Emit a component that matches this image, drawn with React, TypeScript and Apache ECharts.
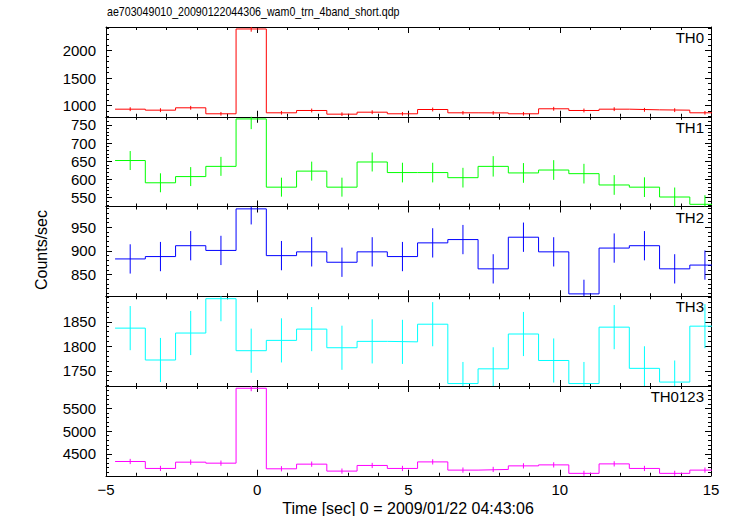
import React, { useEffect, useRef } from "react";
import * as echarts from "echarts";

const titleText = "ae703049010_20090122044306_wam0_trn_4band_short.qdp";
const xAxisTitle = "Time [sec] 0 = 2009/01/22 04:43:06";
const yAxisTitle = "Counts/sec";

const binCenters = [-4.2, -3.2, -2.2, -1.2, -0.2, 0.8, 1.8, 2.8, 3.8, 4.8, 5.8, 6.8, 7.8, 8.8, 9.8, 10.8, 11.8, 12.8, 13.8, 14.8];
const binHalfWidth = 0.5;

const panelNames = ["TH0", "TH1", "TH2", "TH3", "TH0123"];
const panelColors = ["#ff0000", "#00ff00", "#0000ff", "#00ffff", "#ff00ff"];

const th0 = [933, 915, 958, 849, 2394, 867, 909, 842, 878, 849, 927, 867, 865, 849, 940, 909, 933, 921, 915, 867];
const th0Err = [35, 35, 35, 33, 50, 33, 35, 33, 35, 33, 35, 33, 33, 33, 35, 35, 35, 35, 35, 33];
const th1 = [652, 591, 608, 636, 766, 579, 623, 579, 648, 619, 619, 605, 636, 618, 626, 616, 585, 579, 552, 532];
const th1Err = [26, 26, 26, 26, 28, 26, 26, 26, 26, 27, 27, 27, 28, 27, 27, 27, 27, 27, 26, 25];
const th2 = [883, 888, 911, 901, 989, 890, 898, 876, 898, 888, 917, 924, 862, 929, 898, 809, 906, 911, 862, 870];
const th2Err = [31, 31, 31, 31, 33, 31, 31, 31, 31, 31, 31, 31, 31, 31, 31, 30, 31, 31, 31, 31];
const th3 = [1837, 1772, 1827, 1897, 1791, 1812, 1835, 1797, 1810, 1809, 1845, 1724, 1754, 1825, 1771, 1724, 1839, 1755, 1727, 1841];
const th3Err = [45, 45, 45, 46, 45, 45, 45, 45, 45, 45, 45, 44, 44, 45, 45, 44, 45, 45, 44, 45];
const th0123 = [4329, 4175, 4314, 4292, 5952, 4167, 4270, 4116, 4241, 4175, 4320, 4138, 4153, 4232, 4254, 4066, 4276, 4175, 4066, 4138];
const th0123Err = [58, 58, 58, 58, 66, 58, 58, 58, 58, 58, 58, 58, 58, 58, 58, 58, 58, 58, 58, 58];

const panelValues = [th0, th1, th2, th3, th0123];
const panelErrors = [th0Err, th1Err, th2Err, th3Err, th0123Err];

const yRanges = [
  [795, 2430],
  [526, 772],
  [804, 994],
  [1719, 1902],
  [4013, 6002],
];
const yMajorTicks = [
  [1000, 1500, 2000],
  [550, 600, 650, 700, 750],
  [850, 900, 950],
  [1750, 1800, 1850],
  [4500, 5000, 5500],
];
const yMinorStep = [100, 10, 10, 10, 100];

const xMin = -5;
const xMax = 15;
const xMajorStep = 5;

const FONT = "'Liberation Sans', Helvetica, Arial, sans-serif";

export default function App() {
  const ref = useRef<HTMLDivElement>(null);

  useEffect(() => {
    if (!ref.current) return;
    const chart = echarts.init(ref.current, null, { renderer: "svg" });

    const W = 733;
    const gridLeft = 106;
    const gridRight = 22;
    const firstTop = 27;
    const panelH = 89.75;

    const grids: any[] = [];
    const xAxes: any[] = [];
    const yAxes: any[] = [];
    const series: any[] = [];
    const graphics: any[] = [];

    const majorLen = 6;
    const minorLen = 3;
    const lineStyle = { color: "#000", width: 1 };

    for (let i = 0; i < 5; i++) {
      const top = firstTop + i * panelH;
      grids.push({ left: gridLeft, right: gridRight, top, height: panelH });
      const isLast = i === 4;
      const baseX = {
        gridIndex: i,
        type: "value",
        min: xMin,
        max: xMax,
        interval: xMajorStep,
        splitLine: { show: false },
        axisLine: { show: true, onZero: false, lineStyle },
        axisTick: { show: true, inside: true, length: majorLen, lineStyle },
        minorTick: { show: true, splitNumber: 5, length: minorLen, lineStyle },
        minorSplitLine: { show: false },
      };
      xAxes.push({
        ...baseX,
        position: "bottom",
        axisLabel: {
          show: isLast,
          color: "#000",
          fontFamily: FONT,
          fontSize: 15,
          margin: 6,
          formatter: (v: number) => String(v).replace("-", "\u2212"),
        },
      });
      xAxes.push({ ...baseX, position: "top", axisLabel: { show: false } });

      const [ymin, ymax] = yRanges[i];
      const majors = yMajorTicks[i];
      const minors: number[] = [];
      const st = yMinorStep[i];
      for (let v = Math.ceil(ymin / st) * st; v <= ymax; v += st) {
        if (!majors.includes(v)) minors.push(v);
      }
      const baseY = {
        gridIndex: i,
        type: "value",
        min: ymin,
        max: ymax,
        splitLine: { show: false },
      };
      for (const pos of ["left", "right"]) {
        yAxes.push({
          ...baseY,
          position: pos,
          axisLine: { show: true, onZero: false, lineStyle },
          axisTick: { show: true, inside: true, length: majorLen, lineStyle, customValues: majors },
          axisLabel: {
            show: pos === "left",
            customValues: majors,
            color: "#000",
            fontFamily: FONT,
            fontSize: 15,
            margin: 10,
            formatter: (v: number) => String(v),
          },
        });
        yAxes.push({
          ...baseY,
          position: pos,
          axisLine: { show: false, onZero: false },
          axisTick: { show: true, inside: true, length: minorLen, lineStyle, customValues: minors },
          axisLabel: { show: false },
        });
      }

      const vals = panelValues[i];
      const errs = panelErrors[i];
      const stepData: number[][] = binCenters.map((c, k) => [c - binHalfWidth, vals[k]]);
      stepData.push([binCenters[binCenters.length - 1] + binHalfWidth, vals[vals.length - 1]]);
      const color = panelColors[i];

      series.push({
        type: "line",
        xAxisIndex: 2 * i,
        yAxisIndex: 4 * i,
        data: stepData,
        step: "end",
        showSymbol: false,
        symbol: "none",
        lineStyle: { color, width: 1 },
        clip: true,
        z: 3,
      });
      series.push({
        type: "custom",
        xAxisIndex: 2 * i,
        yAxisIndex: 4 * i,
        clip: true,
        data: binCenters.map((c, k) => [c, vals[k], errs[k]]),
        renderItem: (params: any, api: any) => {
          const x = api.value(0);
          const y = api.value(1);
          const e = api.value(2);
          const p1 = api.coord([x, y - e]);
          const p2 = api.coord([x, y + e]);
          return {
            type: "line",
            shape: { x1: p1[0], y1: p1[1], x2: p2[0], y2: p2[1] },
            style: { stroke: color, lineWidth: 1 },
          };
        },
        z: 3,
      });

      graphics.push({
        type: "text",
        x: W - gridRight - 7,
        y: top + 10.5,
        style: {
          text: panelNames[i],
          fill: "#000",
          font: `15px ${FONT}`,
          textAlign: "right",
          textVerticalAlign: "middle",
        },
      });
    }

    graphics.push({
      type: "text",
      x: 107,
      y: 12,
      scaleX: 0.82,
      style: {
        text: titleText,
        fill: "#000",
        font: `13px ${FONT}`,
        textAlign: "left",
        textVerticalAlign: "middle",
      },
    });
    graphics.push({
      type: "text",
      x: 408,
      y: 508.5,
      style: {
        text: xAxisTitle,
        fill: "#000",
        font: `16px ${FONT}`,
        textAlign: "center",
        textVerticalAlign: "middle",
      },
    });
    graphics.push({
      type: "text",
      x: 41,
      y: 250,
      rotation: Math.PI / 2,
      style: {
        text: yAxisTitle,
        fill: "#000",
        font: `16px ${FONT}`,
        textAlign: "center",
        textVerticalAlign: "middle",
      },
    });

    chart.setOption({
      animation: false,
      backgroundColor: "#fff",
      grid: grids,
      xAxis: xAxes,
      yAxis: yAxes,
      series,
      graphic: graphics,
    });

    return () => chart.dispose();
  }, []);

  return (
    <div
      ref={ref}
      style={{ position: "fixed", left: 0, top: 0, width: 733, height: 516 }}
    />
  );
}
